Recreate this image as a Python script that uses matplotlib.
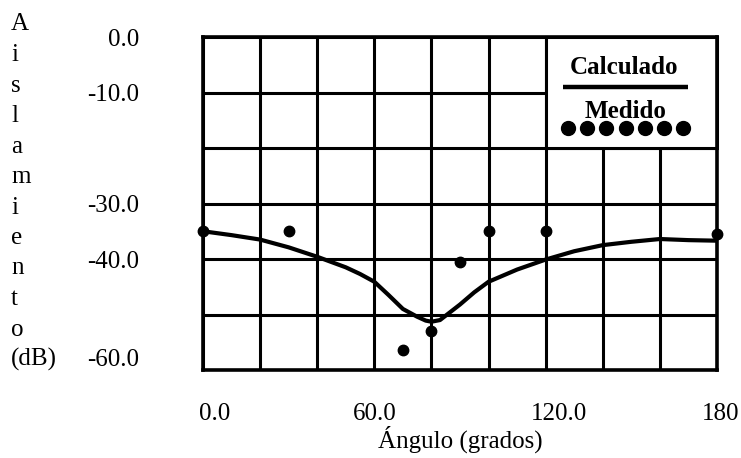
import matplotlib
matplotlib.use("Agg")
import matplotlib.pyplot as plt
from matplotlib.patches import Rectangle
from matplotlib.transforms import ScaledTranslation

plt.rcParams['font.family'] = ['Liberation Serif', 'DejaVu Serif']

# Calculated curve
calc_angle = [0, 10, 20, 30, 40, 50, 55, 60, 65, 70, 75, 78, 80, 83, 85, 90, 95,
              100, 105, 110, 120, 130, 140, 150, 160, 170, 180]
calc_db = [-35.0, -35.7, -36.5, -37.9, -39.6, -41.5, -42.7, -44.1, -46.5, -49.0,
           -50.4, -51.1, -51.3, -51.0, -50.2, -48.2, -46.0, -44.1, -43.0, -41.9,
           -40.1, -38.6, -37.5, -36.9, -36.4, -36.6, -36.7]

# Measured points
meas_angle = [0, 30, 70, 80, 90, 100, 120, 180]
meas_db = [-35.0, -34.9, -56.4, -52.9, -40.5, -35.0, -35.0, -35.5]

x_grid = [0, 20, 40, 60, 80, 100, 120, 140, 160, 180]
x_labels = ['0.0', '', '', '60.0', '', '', '120.0', '', '', '180']
y_grid = [0, -10, -20, -30, -40, -50, -60]
y_labels = ['0.0', '-10.0', '', '-30.0', '-40.0', '', '-60.0']
ylabel_chars = ['A', 'i', 's', 'l', 'a', 'm', 'i', 'e', 'n', 't', 'o', '(dB)']

W, H = 741, 458
fig = plt.figure(figsize=(W / 100, H / 100), dpi=100)
L, R, T, B = 203, 717, 37, 370
ax = fig.add_axes([L / W, 1 - B / H, (R - L) / W, (B - T) / H])

ax.set_xlim(0, 180)
ax.set_ylim(-60, 0)
ax.set_xticks(x_grid)
ax.set_xticklabels(x_labels)
ax.set_yticks(y_grid)
ax.set_yticklabels(y_labels)
ax.tick_params(axis='both', length=0, labelsize=18)
ax.tick_params(axis='y', pad=46)
ax.tick_params(axis='x', pad=24)
ax.grid(True, color='black', linewidth=2.2)
for s in ax.spines.values():
    s.set_linewidth(2.6)
    s.set_zorder(6)

# small label offsets as in the reference (pixels)
def shift(label, dx, dy):
    label.set_transform(label.get_transform() +
                        ScaledTranslation(dx / 100, dy / 100, fig.dpi_scale_trans))

shift(ax.yaxis.get_major_ticks()[-1].label1, 0, 12)
xt = ax.xaxis.get_major_ticks()
shift(xt[0].label1, 12, 0)
shift(xt[6].label1, 13, 0)
shift(xt[9].label1, 4, 0)

# legend box (white panel over grid)
ax.add_patch(Rectangle((120, -20), 60, 20, facecolor='white', edgecolor='black',
                       linewidth=2.2, zorder=2, clip_on=False))

ax.plot(calc_angle, calc_db, color='black', linewidth=3.0, zorder=4,
        solid_joinstyle='round')
ax.plot(meas_angle, meas_db, linestyle='none', marker='o', markersize=7.5,
        color='black', zorder=5, clip_on=False)

# legend contents
tr = ax.transAxes
ax.text(0.819, 0.907, 'Calculado', transform=tr, ha='center', va='center',
        fontsize=18, fontweight='bold', zorder=7)
ax.plot([0.700, 0.944], [0.850, 0.850], transform=tr, color='black',
        linewidth=3.2, zorder=7, solid_capstyle='butt')
ax.text(0.823, 0.775, 'Medido', transform=tr, ha='center', va='center',
        fontsize=18, fontweight='bold', zorder=7)
dot_x = [0.710 + i * (0.934 - 0.710) / 6 for i in range(7)]
ax.plot(dot_x, [0.727] * 7, transform=tr, linestyle='none', marker='o',
        markersize=10, color='black', zorder=7)

ax.set_xlabel('Ángulo (grados)', fontsize=18, labelpad=0)

# vertical stacked y label
for i, ch in enumerate(ylabel_chars):
    fig.text(11 / W, 1 - (30.5 + 30.5 * i) / H, ch, ha='left', va='baseline',
             fontsize=18)

fig.savefig('out.png', dpi=100)
